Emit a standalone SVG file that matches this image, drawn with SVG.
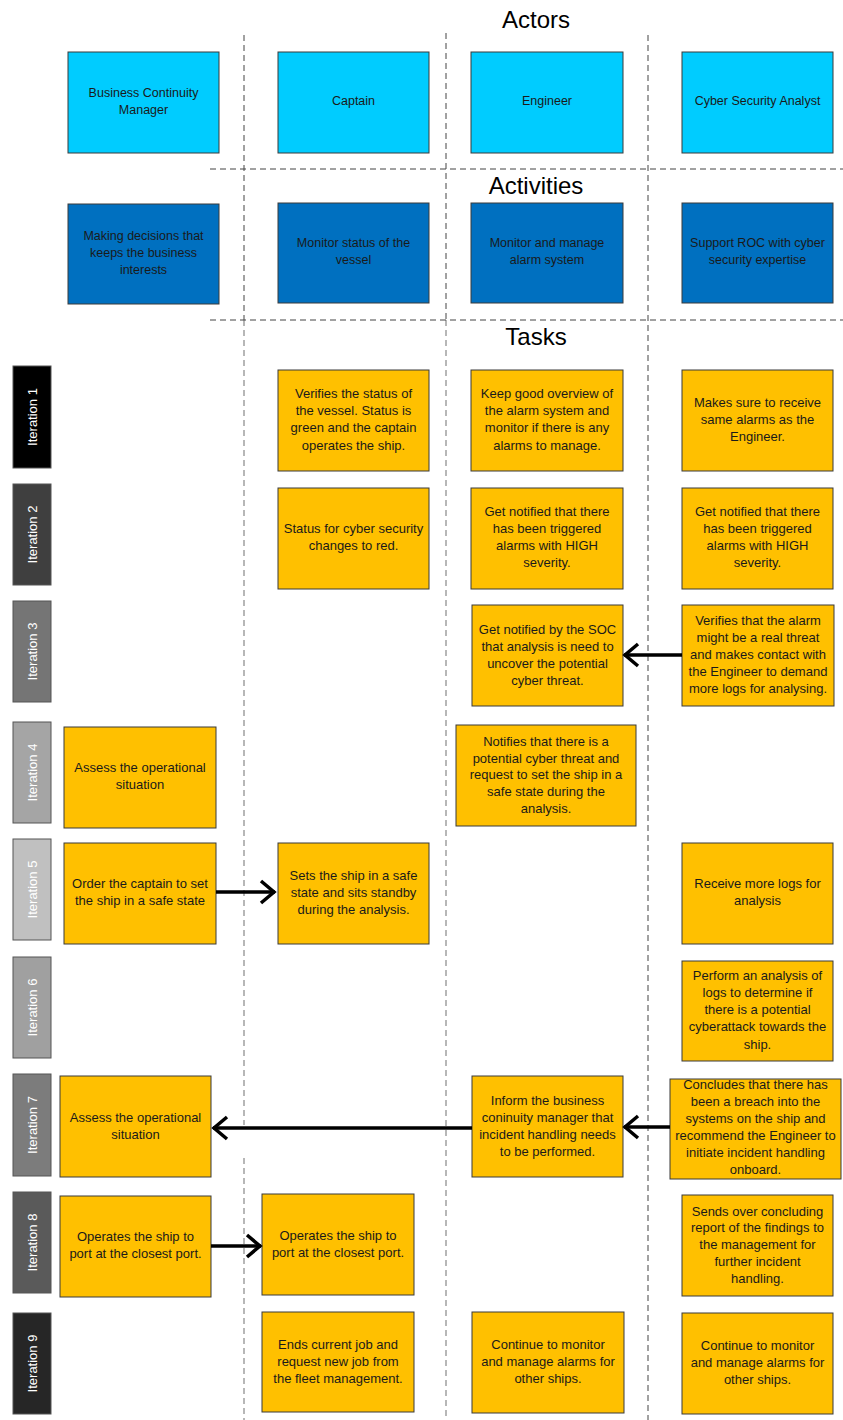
<svg xmlns="http://www.w3.org/2000/svg" width="843" height="1420" viewBox="0 0 843 1420">
<style>
text{font-family:"Liberation Sans",Arial,sans-serif;fill:#1a1a1a;text-anchor:middle}
.title{font-size:24px;fill:#000}
.actor{fill:#00CCFF;stroke:#3a3a3a;stroke-width:1}
.act{fill:#0070C0;stroke:#3a3a3a;stroke-width:1}
.task{fill:#FFC000;stroke:#3a3a3a;stroke-width:1}
.it{stroke:#555;stroke-width:1}
.itt{font-size:13px;fill:#fff}
.s{font-size:12.5px}
.t{font-size:13px}
.dash{stroke:#444;stroke-width:1;stroke-dasharray:6 4;fill:none}
.dashg{stroke:#888;stroke-width:1.2;stroke-dasharray:6 4;fill:none}
.conn{stroke:#000;stroke-width:3.5;fill:none;marker-end:url(#arr)}
</style>
<defs>
<marker id="arr" markerUnits="userSpaceOnUse" viewBox="-16 -14 20 28" refX="1" refY="0" markerWidth="20" markerHeight="28" orient="auto">
<path d="M-13,-11 L0,0 L-13,11" fill="none" stroke="#000" stroke-width="3.5"/>
</marker>
</defs>
<rect width="843" height="1420" fill="#fff"/>

<g id="guides">
<line class="dash" x1="244" y1="35" x2="244" y2="320"/>
<line class="dashg" x1="244" y1="320" x2="244" y2="1125"/>
<line class="dashg" x1="244" y1="1158" x2="244" y2="1420"/>
<line class="dash" x1="446" y1="33" x2="446" y2="320"/>
<line class="dashg" x1="446" y1="320" x2="446" y2="1420"/>
<line class="dash" x1="648" y1="35" x2="648" y2="1420"/>
<line class="dash" x1="210" y1="169" x2="843" y2="169"/>
<line class="dash" x1="210" y1="320" x2="843" y2="320"/>
<text class="title" x="536" y="28">Actors</text>
<text class="title" x="536" y="194">Activities</text>
<text class="title" x="536" y="345">Tasks</text>
</g>

<g id="actor-bcm"><rect class="actor" x="68" y="52" width="151" height="101"/><text class="s" x="143.5" y="97">Business Continuity</text><text class="s" x="143.5" y="114">Manager</text></g>
<g id="actor-captain"><rect class="actor" x="278" y="52" width="151" height="101"/><text class="s" x="353.5" y="105">Captain</text></g>
<g id="actor-engineer"><rect class="actor" x="471" y="52" width="152" height="101"/><text class="s" x="547" y="105">Engineer</text></g>
<g id="actor-csa"><rect class="actor" x="682" y="52" width="151" height="101"/><text class="s" x="757.5" y="105">Cyber Security Analyst</text></g>

<g id="act-bcm"><rect class="act" x="68" y="204" width="151" height="100"/><text class="s" x="143.5" y="240">Making decisions that</text><text class="s" x="143.5" y="257">keeps the business</text><text class="s" x="143.5" y="274">interests</text></g>
<g id="act-captain"><rect class="act" x="278" y="203" width="151" height="100"/><text class="s" x="353.5" y="247">Monitor status of the</text><text class="s" x="353.5" y="264">vessel</text></g>
<g id="act-engineer"><rect class="act" x="471" y="203" width="152" height="100"/><text class="s" x="547" y="247">Monitor and manage</text><text class="s" x="547" y="264">alarm system</text></g>
<g id="act-csa"><rect class="act" x="682" y="203" width="151" height="100"/><text class="s" x="757.5" y="247">Support ROC with cyber</text><text class="s" x="757.5" y="264">security expertise</text></g>

<g id="iter1"><rect class="it" x="13" y="366" width="38" height="102" fill="#000"/><text class="itt" transform="translate(36.5,417) rotate(-90)">Iteration 1</text></g>
<g id="iter2"><rect class="it" x="13" y="484" width="38" height="101" fill="#3f3f3f"/><text class="itt" transform="translate(36.5,534.5) rotate(-90)">Iteration 2</text></g>
<g id="iter3"><rect class="it" x="13" y="601" width="38" height="101" fill="#757575"/><text class="itt" transform="translate(36.5,651.5) rotate(-90)">Iteration 3</text></g>
<g id="iter4"><rect class="it" x="13" y="722" width="38" height="101" fill="#a5a5a5"/><text class="itt" transform="translate(36.5,772.5) rotate(-90)">Iteration 4</text></g>
<g id="iter5"><rect class="it" x="13" y="839" width="38" height="101" fill="#c0c0c0"/><text class="itt" transform="translate(36.5,889.5) rotate(-90)">Iteration 5</text></g>
<g id="iter6"><rect class="it" x="13" y="957" width="38" height="101" fill="#a0a0a0"/><text class="itt" transform="translate(36.5,1007.5) rotate(-90)">Iteration 6</text></g>
<g id="iter7"><rect class="it" x="13" y="1074" width="38" height="102" fill="#7c7c7c"/><text class="itt" transform="translate(36.5,1125) rotate(-90)">Iteration 7</text></g>
<g id="iter8"><rect class="it" x="13" y="1192" width="38" height="101" fill="#5a5a5a"/><text class="itt" transform="translate(36.5,1242.5) rotate(-90)">Iteration 8</text></g>
<g id="iter9"><rect class="it" x="13" y="1313" width="38" height="101" fill="#262626"/><text class="itt" transform="translate(36.5,1363.5) rotate(-90)">Iteration 9</text></g>

<g id="t1-captain"><rect class="task" x="278" y="370" width="151" height="101"/><text class="t" x="353.5" y="398">Verifies the status of</text><text class="t" x="353.5" y="415">the vessel. Status is</text><text class="t" x="353.5" y="432">green and the captain</text><text class="t" x="353.5" y="450">operates the ship.</text></g>
<g id="t1-engineer"><rect class="task" x="471" y="370" width="152" height="101"/><text class="t" x="547" y="398">Keep good overview of</text><text class="t" x="547" y="415">the alarm system and</text><text class="t" x="547" y="432">monitor if there is any</text><text class="t" x="547" y="450">alarms to manage.</text></g>
<g id="t1-csa"><rect class="task" x="682" y="370" width="151" height="101"/><text class="t" x="757.5" y="407">Makes sure to receive</text><text class="t" x="757.5" y="424">same alarms as the</text><text class="t" x="757.5" y="441">Engineer.</text></g>

<g id="t2-captain"><rect class="task" x="278" y="488" width="151" height="101"/><text class="t" x="353.5" y="533">Status for cyber security</text><text class="t" x="353.5" y="550">changes to red.</text></g>
<g id="t2-engineer"><rect class="task" x="471" y="488" width="152" height="101"/><text class="t" x="547" y="516">Get notified that there</text><text class="t" x="547" y="533">has been triggered</text><text class="t" x="547" y="550">alarms with HIGH</text><text class="t" x="547" y="567">severity.</text></g>
<g id="t2-csa"><rect class="task" x="682" y="488" width="151" height="101"/><text class="t" x="757.5" y="516">Get notified that there</text><text class="t" x="757.5" y="533">has been triggered</text><text class="t" x="757.5" y="550">alarms with HIGH</text><text class="t" x="757.5" y="567">severity.</text></g>

<g id="t3-engineer"><rect class="task" x="472" y="605" width="151" height="101"/><text class="t" x="547.5" y="634">Get notified by the SOC</text><text class="t" x="547.5" y="651">that analysis is need to</text><text class="t" x="547.5" y="668">uncover the potential</text><text class="t" x="547.5" y="685">cyber threat.</text></g>
<g id="t3-csa"><rect class="task" x="682" y="605" width="152" height="101"/><text class="t" x="758" y="625">Verifies that the alarm</text><text class="t" x="758" y="642">might be a real threat</text><text class="t" x="758" y="659">and makes contact with</text><text class="t" x="758" y="676">the Engineer to demand</text><text class="t" x="758" y="693">more logs for analysing.</text></g>

<g id="t4-bcm"><rect class="task" x="64" y="727" width="152" height="101"/><text class="t" x="140" y="772">Assess the operational</text><text class="t" x="140" y="789">situation</text></g>
<g id="t4-engineer"><rect class="task" x="456" y="725" width="180" height="101"/><text class="t" x="546" y="746">Notifies that there is a</text><text class="t" x="546" y="763">potential cyber threat and</text><text class="t" x="546" y="779">request to set the ship in a</text><text class="t" x="546" y="796">safe state during the</text><text class="t" x="546" y="813">analysis.</text></g>

<g id="t5-bcm"><rect class="task" x="64" y="843" width="152" height="101"/><text class="t" x="140" y="888">Order the captain to set</text><text class="t" x="140" y="905">the ship in a safe state</text></g>
<g id="t5-captain"><rect class="task" x="278" y="843" width="151" height="101"/><text class="t" x="353.5" y="880">Sets the ship in a safe</text><text class="t" x="353.5" y="897">state and sits standby</text><text class="t" x="353.5" y="914">during the analysis.</text></g>
<g id="t5-csa"><rect class="task" x="682" y="843" width="151" height="101"/><text class="t" x="757.5" y="888">Receive more logs for</text><text class="t" x="757.5" y="905">analysis</text></g>

<g id="t6-csa"><rect class="task" x="682" y="961" width="151" height="100"/><text class="t" x="757.5" y="980">Perform an analysis of</text><text class="t" x="757.5" y="997">logs to determine if</text><text class="t" x="757.5" y="1014">there is a potential</text><text class="t" x="757.5" y="1031">cyberattack towards the</text><text class="t" x="757.5" y="1049">ship.</text></g>

<g id="t7-bcm"><rect class="task" x="60" y="1076" width="151" height="101"/><text class="t" x="135.5" y="1122">Assess the operational</text><text class="t" x="135.5" y="1139">situation</text></g>
<g id="t7-engineer"><rect class="task" x="472" y="1076" width="151" height="101"/><text class="t" x="547.5" y="1105">Inform the business</text><text class="t" x="547.5" y="1122">coninuity manager that</text><text class="t" x="547.5" y="1139">incident handling needs</text><text class="t" x="547.5" y="1156">to be performed.</text></g>
<g id="t7-csa"><rect class="task" x="670" y="1079" width="171" height="100"/><text class="t" x="755.5" y="1089">Concludes that there has</text><text class="t" x="755.5" y="1106">been a breach into the</text><text class="t" x="755.5" y="1123">systems on the ship and</text><text class="t" x="755.5" y="1140">recommend the Engineer to</text><text class="t" x="755.5" y="1157">initiate incident handling</text><text class="t" x="755.5" y="1174">onboard.</text></g>

<g id="t8-bcm"><rect class="task" x="60" y="1196" width="151" height="101"/><text class="t" x="135.5" y="1241">Operates the ship to</text><text class="t" x="135.5" y="1258">port at the closest port.</text></g>
<g id="t8-captain"><rect class="task" x="262" y="1194" width="152" height="101"/><text class="t" x="338" y="1240">Operates the ship to</text><text class="t" x="338" y="1257">port at the closest port.</text></g>
<g id="t8-csa"><rect class="task" x="682" y="1195" width="151" height="101"/><text class="t" x="757.5" y="1216">Sends over concluding</text><text class="t" x="757.5" y="1232">report of the findings to</text><text class="t" x="757.5" y="1249">the management for</text><text class="t" x="757.5" y="1266">further incident</text><text class="t" x="757.5" y="1283">handling.</text></g>

<g id="t9-captain"><rect class="task" x="262" y="1312" width="152" height="100"/><text class="t" x="338" y="1349">Ends current job and</text><text class="t" x="338" y="1366">request new job from</text><text class="t" x="338" y="1383">the fleet management.</text></g>
<g id="t9-engineer"><rect class="task" x="472" y="1312" width="152" height="101"/><text class="t" x="548" y="1349">Continue to monitor</text><text class="t" x="548" y="1366">and manage alarms for</text><text class="t" x="548" y="1383">other ships.</text></g>
<g id="t9-csa"><rect class="task" x="682" y="1313" width="151" height="101"/><text class="t" x="757.5" y="1350">Continue to monitor</text><text class="t" x="757.5" y="1367">and manage alarms for</text><text class="t" x="757.5" y="1384">other ships.</text></g>

<g id="connectors">
<line class="conn" x1="682" y1="655" x2="624" y2="655"/>
<line class="conn" x1="216" y1="892" x2="275" y2="892"/>
<line class="conn" x1="670" y1="1127" x2="624" y2="1127"/>
<line class="conn" x1="472" y1="1128" x2="213" y2="1128"/>
<line class="conn" x1="211" y1="1246" x2="261" y2="1246"/>
</g>
</svg>
